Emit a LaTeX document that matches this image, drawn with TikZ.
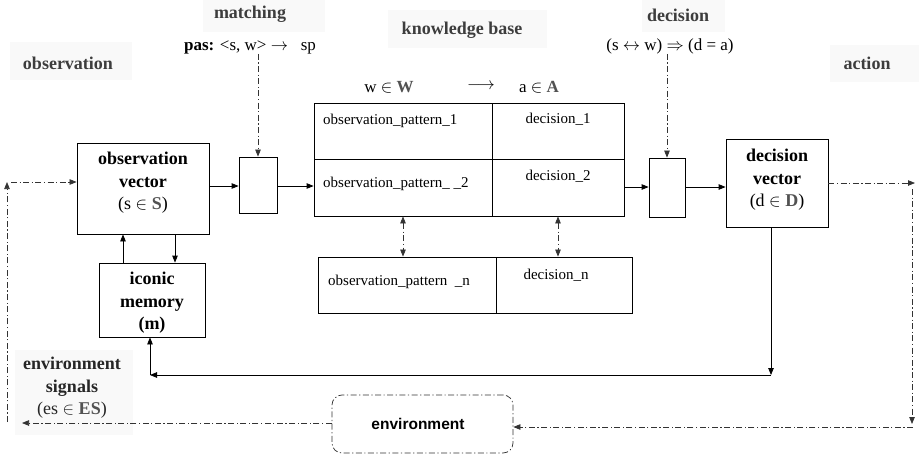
\documentclass[tikz,border=0pt]{standalone}
\usepackage{fontspec}
\setmainfont{Liberation Serif}
\newfontfamily\envsans{Liberation Sans}
\usetikzlibrary{arrows.meta}

% bold set symbols in dark grey
\newcommand{\setsym}[1]{\textbf{\color{black!68}#1}}

\tikzset{
  box/.style={draw, line width=0.8pt, inner sep=0pt, fill=white},
  hdbg/.style={fill=black!2.5, draw=none, inner sep=0pt},
  hd/.style={text=black!76, inner sep=0pt, font=\fontsize{18}{22}\selectfont\bfseries},
  blab/.style={inner sep=0pt, align=center, font=\fontsize{18}{22.5}\selectfont\bfseries},
  formula/.style={inner sep=0pt, font=\fontsize{17}{20}\selectfont},
  cell/.style={inner sep=0pt, font=\fontsize{15}{18}\selectfont},
  tipend/.style={-{Triangle[length=7pt,width=5.5pt]}},
  flow/.style={draw, line width=0.8pt, tipend},
  dd/.style={draw=black!80, line width=0.75pt,
             dash pattern=on 6pt off 2.5pt on 1.2pt off 2.5pt},
  ddflow/.style={dd, tipend},
  ddboth/.style={dd, {Triangle[length=7pt,width=5.5pt]}-{Triangle[length=7pt,width=5.5pt]}}
}

\begin{document}
\begin{tikzpicture}[x=1pt,y=-1pt]
\useasboundingbox (0,0) rectangle (919,456);

% ---------- headings on light grey panels ----------
\node[hdbg, minimum width=122pt, minimum height=38pt] (bgobs) at (71,61) {};
\node[hd] (hobs) at (68,63) {observation};
\node[hdbg, minimum width=122pt, minimum height=32pt] (bgmatch) at (264,16) {};
\node[hd] (hmatch) at (250,14) {matching};
\node[hdbg, minimum width=159pt, minimum height=38pt] (bgkb) at (467.5,29) {};
\node[hd] (hkb) at (462,30) {knowledge base};
\node[hdbg, minimum width=83pt, minimum height=32pt] (bgdec) at (683.5,16) {};
\node[hd] (hdec) at (678,15) {decision};
\node[hdbg, minimum width=89pt, minimum height=37pt] (bgact) at (874.5,63.5) {};
\node[hd] (hact) at (867,63) {action};
\node[hdbg, minimum width=118pt, minimum height=85pt] (bgsig) at (74,392.5) {};
\node[blab, text=black!85] (hsig) at (72,388)
  {environment\\signals\\{\mdseries(es $\in$ \setsym{ES})}};

% ---------- formulas ----------
\node[formula] (pas) at (250,47) {\textbf{pas:} <s, w> $\rightarrow$\ \ \ sp};
\node[formula] (rule) at (670,46) {(s $\leftrightarrow$ w) $\Rightarrow$ (d = a)};
\node[formula] (wW) at (389,87) {w $\in$ \setsym{W}};
\node[formula] (wto) at (481,86) {$\longrightarrow$};
\node[formula] (aA) at (539,87) {a $\in$ \setsym{A}};

% ---------- blocks ----------
\node[box, minimum width=132pt, minimum height=91pt] (obsvec) at (143,188.5) {};
\node[blab] (obsvectxt) at (143,183) {observation\\vector\\{\mdseries(s $\in$ \setsym{S})}};

\node[box, minimum width=106pt, minimum height=74pt] (iconic) at (152,300) {};
\node[blab] (iconictxt) at (152,303) {iconic\\memory\\(m)};

\node[box, minimum width=38pt, minimum height=56pt] (match) at (258,185) {};

% knowledge base table
\node[box, minimum width=178pt, minimum height=56pt] (c11) at (403,131) {};
\node[box, minimum width=132pt, minimum height=56pt] (c12) at (558,131) {};
\node[box, minimum width=178pt, minimum height=57pt] (c21) at (403,187.5) {};
\node[box, minimum width=132pt, minimum height=57pt] (c22) at (558,187.5) {};
\node[cell, anchor=west] (t11) at (323,121) {observation\_pattern\_1};
\node[cell] (t12) at (558,119) {decision\_1};
\node[cell, anchor=west] (t21) at (323,184) {observation\_pattern\_ \_2};
\node[cell] (t22) at (558,176) {decision\_2};

\node[box, minimum width=178pt, minimum height=56pt] (cn1) at (407,285) {};
\node[box, minimum width=136pt, minimum height=56pt] (cn2) at (564,285) {};
\node[cell, anchor=west] (tn1) at (328,282) {observation\_pattern \ \_n};
\node[cell] (tn2) at (556,275) {decision\_n};

\node[box, minimum width=36pt, minimum height=59pt] (decbox) at (667,187.5) {};

\node[box, minimum width=102pt, minimum height=88pt] (decvec) at (777,183) {};
\node[blab] (decvectxt) at (777,180) {decision\\vector\\{\mdseries(d $\in$ \setsym{D})}};

\node[dd, rounded corners=10pt, inner sep=0pt, minimum width=181pt, minimum height=58pt] (env) at (422.5,424) {};
\node[inner sep=0pt, font=\envsans\fontsize{15.5}{18}\selectfont\bfseries] (envtxt) at (418,424) {environment};

% ---------- solid connectors ----------
\coordinate (row) at (0,186);
\coordinate (row2) at (0,187);
\draw[flow] (obsvec.east |- row) -- (match.west |- row);
\draw[flow] (match.east |- row) -- (c21.west |- row);
\draw[flow] (c22.east |- row2) -- (decbox.west |- row2);
\draw[flow] (decbox.east |- row2) -- (decvec.west |- row2);

\coordinate (upx) at (123,0);
\coordinate (dnx) at (175,0);
\draw[flow] (iconic.north -| upx) -- (obsvec.south -| upx);
\draw[flow] (obsvec.south -| dnx) -- (iconic.north -| dnx);

\coordinate (fbr) at (771,375);
\coordinate (fbl) at (150,375);
\draw[flow] (decvec.south -| fbr) -- (fbr);
\draw[flow] (fbr) -- (fbl);
\draw[flow] (fbl) -- (iconic.south -| fbl);

% ---------- dash-dotted connectors ----------
\draw[ddflow] (pas.south -| match.north) -- (match.north);
\draw[ddflow] (rule.south -| decbox.north) -- (decbox.north);
\draw[ddboth] (c21.south) -- (c21.south |- cn1.north);
\draw[ddboth] (c22.south) -- (c22.south |- cn2.north);

\coordinate (ra) at (915,183);
\draw[ddflow] (decvec.east) -- (ra);
\coordinate (rt) at (912,189);
\coordinate (rb) at (912,424);
\draw[ddflow] (rt) -- (rb);
\coordinate (rin) at (913,427);
\draw[ddflow] (rin) -- (env.east |- rin);

\coordinate (lo) at (22,423);
\draw[ddflow] (env.west |- lo) -- (lo);
\coordinate (lb) at (7,422);
\coordinate (lt) at (7,182);
\draw[ddflow] (lb) -- (lt);
\coordinate (lh) at (11,182);
\draw[ddflow] (lh) -- (obsvec.west |- lh);
\end{tikzpicture}
\end{document}
